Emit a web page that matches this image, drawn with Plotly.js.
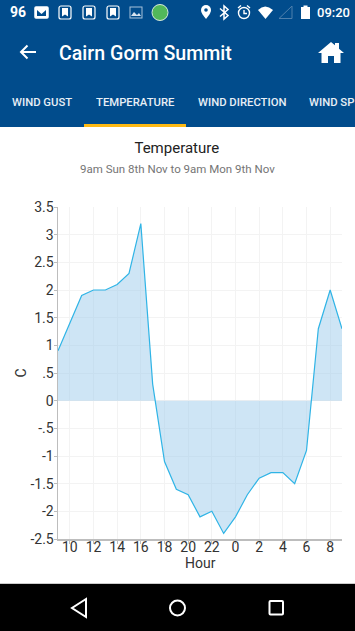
<!DOCTYPE html>
<html>
<head>
<meta charset="utf-8">
<script src="https://cdn.plot.ly/plotly-3.0.1.min.js"></script>
<style>
html,body{margin:0;padding:0;background:#fff;overflow:hidden}
#page{position:relative;width:355px;height:631px;overflow:hidden;font-family:Roboto,sans-serif}
#chart{position:absolute;left:0;top:127px;width:355px;height:457px}
#head{position:absolute;left:0;top:0;width:355px;height:127px;background:#014c8c;color:#fff}
#nav{position:absolute;left:0;top:583px;width:355px;height:48px;background:#000;border-top:1px solid #ccc;box-sizing:border-box}
.t{position:absolute;white-space:nowrap}
.tab{font-size:11.3px;font-weight:500;top:96px;line-height:14px;color:#e8eff6}
svg{position:absolute;left:0;top:0}
</style>
</head>
<body>
<div id="page">
<div id="head">
<div class="t" style="left:10px;top:4px;font-size:14px;font-weight:700;line-height:16px">96</div>
<div class="t" style="left:317px;top:5px;font-size:13px;font-weight:500;line-height:15px">09:20</div>
<div class="t" style="left:59px;top:43px;font-size:19.6px;font-weight:500;line-height:22px">Cairn Gorm Summit</div>
<div class="t tab" style="left:12px">WIND GUST</div>
<div class="t tab" style="left:96px">TEMPERATURE</div>
<div class="t tab" style="left:198px">WIND DIRECTION</div>
<div class="t tab" style="left:309px">WIND SP</div>
<svg width="355" height="127">
<g fill="none" stroke="#fff" stroke-width="1.5">
<rect x="35" y="7" width="13" height="11" rx="1" fill="#fff"/>
<path d="M37 10 L41.5 14 L46 10 V16 H37Z" fill="#014c8c" stroke="none"/>
<rect x="59" y="6" width="12" height="13" rx="2" stroke-width="1.2"/>
<rect x="83" y="6" width="12" height="13" rx="2" stroke-width="1.2"/>
<rect x="107" y="6" width="12" height="13" rx="2" stroke-width="1.2"/>
<rect x="130" y="7" width="12" height="11" stroke="#a8c2da" stroke-width="1"/>
</g>
<path d="M62 8h6v8.500l-3-2-3 2z M86 8h6v8.500l-3-2-3 2z M110 8h6v8.500l-3-2-3 2z" fill="#fff"/>
<path d="M131 16 L134 12 L137 15 L139 13 L141 16Z" fill="#d5e2ee"/>
<circle cx="160" cy="12.500" r="8" fill="#52b85a" stroke="#d9eadb" stroke-width="1"/>
<path d="M206 5 a5 5 0 0 1 5 5 c0 3.500-5 9-5 9 s-5-5.500-5-9 a5 5 0 0 1 5-5z" fill="#fff"/>
<circle cx="206" cy="10" r="1.800" fill="#014c8c"/>
<path d="M220 8.500 L228 15.500 L224 19 V6 L228 9.500 L220 16.500" fill="none" stroke="#fff" stroke-width="1.500"/>
<circle cx="244" cy="13" r="5.500" fill="none" stroke="#fff" stroke-width="1.400"/>
<path d="M244 10 V13.500 H247 M238 8 L241 5.500 M250 8 L247 5.500" fill="none" stroke="#fff" stroke-width="1.400"/>
<path d="M258 10 Q265 3 273 10 L265.500 19Z" fill="#fff"/>
<path d="M279 18.500 L292 6 V18.500Z" fill="none" stroke="#4f80ad" stroke-width="1"/>
<path d="M301 7 h2.500 v-1.500 h4 v1.500 h2.500 v12 h-9z" fill="#fff"/>
<path d="M36 52 H21 M27.500 45.500 L21 52 L27.500 58.500" fill="none" stroke="#fff" stroke-width="2"/>
<path d="M318 53 L331 42 L335 45.300 V43 H339 V48.700 L344 53 H340.500 V63 H334 V56 H328 V63 H321.500 V53Z" fill="#fff"/>
<rect x="84" y="124" width="102" height="3" fill="#fdb913"/>
</svg>
</div>
<div id="chart"></div>
<div id="nav">
<svg width="355" height="48">
<path d="M86 15 L72 24 L86 33Z" fill="none" stroke="#fff" stroke-width="2"/>
<circle cx="177.500" cy="24" r="7.500" fill="none" stroke="#fff" stroke-width="2"/>
<rect x="269.500" y="17" width="13.500" height="13.500" rx="1" fill="none" stroke="#fff" stroke-width="2"/>
</svg>
</div>
</div>
<script>
var hours = [9,10,11,12,13,14,15,16,17,18,19,20,21,22,23,24,25,26,27,28,29,30,31,32,33];
var temperature = [0.9,1.4,1.9,2,2,2.1,2.3,3.2,0.3,-1.1,-1.6,-1.7,-2.1,-2,-2.4,-2.1,-1.7,-1.4,-1.3,-1.3,-1.5,-0.9,1.3,2,1.3];
var xTickVals = [10,12,14,16,18,20,22,24,26,28,30,32];
var xTickText = ['10','12','14','16','18','20','22','0','2','4','6','8'];
var yTickVals = [3.5,3,2.5,2,1.5,1,0.5,0,-0.5,-1,-1.5,-2,-2.5];
var yTickText = ['3.5','3','2.5','2','1.5','1','.5','0','-.5','-1','-1.5','-2','-2.5'];
var ink = '#333333';
Plotly.newPlot('chart', [{
  x: hours, y: temperature, type: 'scatter', mode: 'lines',
  fill: 'tozeroy', fillcolor: 'rgba(158,203,236,0.5)',
  line: {color: '#2fb4e6', width: 1.2},
  hoverinfo: 'skip'
}], {
  width: 355, height: 457,
  margin: {l: 58, r: 13, t: 80, b: 45},
  paper_bgcolor: '#ffffff', plot_bgcolor: '#ffffff',
  showlegend: false,
  font: {family: 'Roboto, sans-serif', color: ink},
  title: {text: 'Temperature', font: {size: 15, color: '#222222'}, x: 0.498, xanchor: 'center', y: 0.954, yanchor: 'middle'},
  annotations: [{
    text: '9am Sun 8th Nov to 9am Mon 9th Nov', xref: 'paper', yref: 'paper',
    x: 0.5, xshift: -22.5, y: 1, yshift: 38, showarrow: false, xanchor: 'center', yanchor: 'middle',
    font: {size: 11.5, color: '#757575'}
  }, {
    text: 'Hour', xref: 'paper', yref: 'paper',
    x: 0.5, y: 0, yshift: -24, showarrow: false, xanchor: 'center', yanchor: 'middle',
    font: {size: 14, color: ink}
  }],
  xaxis: {
    range: [9, 33], tickmode: 'array', tickvals: xTickVals, ticktext: xTickText,
    showgrid: true, gridcolor: '#f3f3f3', gridwidth: 1, zeroline: false,
    showline: true, linecolor: '#bdbdbd', linewidth: 1.5,
    ticks: 'outside', ticklen: 3, tickcolor: '#bdbdbd', tickangle: 0,
    ticklabelstandoff: -8,
    tickfont: {size: 14, color: ink}
  },
  yaxis: {
    range: [-2.5, 3.5], tickmode: 'array', tickvals: yTickVals, ticktext: yTickText,
    showgrid: true, gridcolor: '#f3f3f3', gridwidth: 1, zeroline: false,
    showline: true, linecolor: '#bdbdbd', linewidth: 1.5,
    ticks: 'outside', ticklen: 3, tickcolor: '#bdbdbd',
    ticklabelstandoff: -3,
    tickfont: {size: 14, color: ink},
    automargin: true,
    title: {text: 'C', font: {size: 14, color: ink}, standoff: 0}
  }
}, {displayModeBar: false, staticPlot: true});
</script>
</body>
</html>
